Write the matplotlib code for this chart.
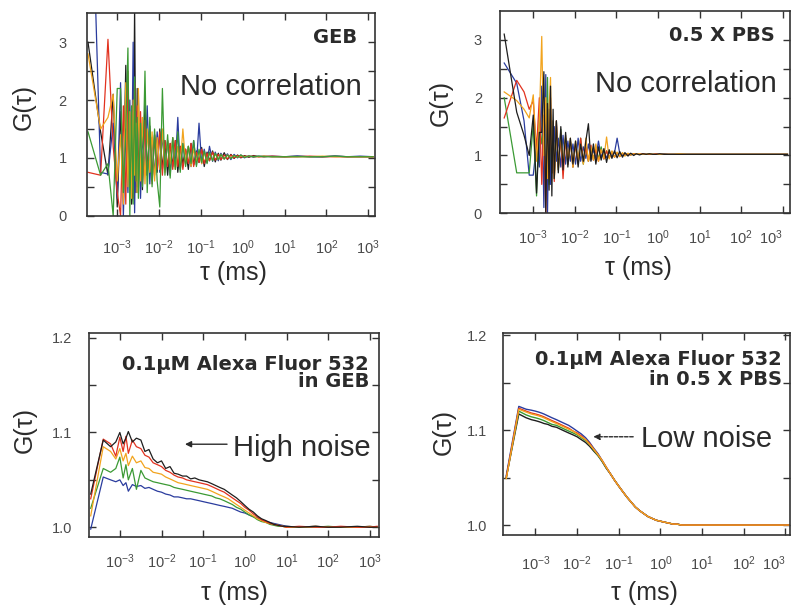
import matplotlib
matplotlib.use("Agg")
import matplotlib.pyplot as plt
from matplotlib.ticker import (FixedLocator, NullLocator, FormatStrFormatter,
                               LogFormatterSciNotation)

plt.rcParams['font.family'] = ['Liberation Sans', 'DejaVu Sans']
plt.rcParams['mathtext.fontset'] = 'custom'
plt.rcParams['mathtext.rm'] = 'Liberation Sans'
plt.rcParams['mathtext.it'] = 'Liberation Sans:italic'
plt.rcParams['mathtext.bf'] = 'Liberation Sans:bold'

# ---------------- data ----------------
tau_noise = [0.0002, 0.0004, 0.0006, 0.0008, 0.0010, 0.0012, 0.0014, 0.0016, 0.0018, 0.0020,
             0.0022, 0.0024, 0.0026, 0.0028, 0.0030, 0.0032, 0.0036, 0.0040, 0.0046, 0.0052,
             0.0060, 0.0068, 0.0078, 0.0090, 0.0104, 0.0120, 0.0138, 0.0160, 0.0184, 0.0212,
             0.0244, 0.0280, 0.0320, 0.0370, 0.0430, 0.0500, 0.0580, 0.0670, 0.0780, 0.0900,
             0.104, 0.120, 0.140, 0.160, 0.190, 0.220, 0.260, 0.300, 0.360, 0.430,
             0.520, 0.620, 0.750, 0.900, 1.10, 1.40, 1.80, 2.40, 3.20, 5.0,
             10, 20, 40, 80, 160, 320, 640, 1300]

geb_noise_black = [3.00, 1.45, 0.70, 2.10, 0.15, 1.80, 0.40, 2.60, 0.90, 1.60,
                   0.20, 0.50, 3.60, 0.40, 2.20, 0.60, 1.70, 0.45, 1.95, 0.70,
                   1.55, 0.60, 1.40, 0.75, 1.50, 0.80, 1.30, 0.70, 1.25, 0.85,
                   1.30, 0.75, 1.20, 0.90, 1.15, 0.80, 1.25, 0.88, 1.12, 0.92,
                   1.18, 0.85, 1.10, 0.95, 1.12, 0.93, 1.08, 0.96, 1.09, 0.97,
                   1.06, 0.99, 1.05, 1.00, 1.04, 1.01, 1.04, 1.02, 1.03, 1.02,
                   1.02, 1.03, 1.02, 1.02, 1.03, 1.02, 1.02, 1.02]
geb_noise_blue = [8.00, 0.75, 0.72, 1.60, 0.30, 2.30, 0.00, 1.50, 0.40, 2.00,
                  0.60, 3.00, 0.05, 1.80, 0.50, 2.10, 0.30, 1.40, 0.80, 1.90,
                  0.55, 1.35, 0.70, 1.45, 0.75, 1.40, 0.80, 1.30, 0.70, 1.35,
                  0.85, 1.70, 0.80, 1.25, 0.90, 1.20, 0.85, 1.30, 0.88, 1.60,
                  0.90, 1.15, 0.92, 1.20, 0.94, 1.10, 0.95, 1.08, 0.98, 1.07,
                  0.97, 1.06, 1.00, 1.05, 1.00, 1.04, 1.01, 1.03, 1.02, 1.03,
                  1.02, 1.03, 1.02, 1.02, 1.03, 1.02, 1.03, 1.02]
geb_noise_red = [0.75, 0.70, 3.05, 1.20, 0.40, 0.00, 1.90, 0.20, 2.50, 0.70,
                 1.80, 0.30, 2.30, 0.60, 1.90, 0.40, 1.80, 0.55, 1.65, 0.70,
                 1.50, 0.55, 1.40, 0.80, 1.45, 0.70, 1.30, 0.85, 1.25, 0.80,
                 1.30, 0.85, 1.20, 0.80, 1.15, 0.90, 1.25, 0.85, 1.10, 0.92,
                 1.15, 0.90, 1.08, 0.95, 1.10, 0.96, 1.06, 0.97, 1.05, 0.98,
                 1.05, 1.00, 1.04, 1.01, 1.03, 1.02, 1.03, 1.02, 1.02, 1.03,
                 1.02, 1.02, 1.03, 1.02, 1.02, 1.02, 1.02, 1.02]
geb_noise_orange = [2.80, 1.50, 1.70, 2.10, 0.60, 1.40, 0.20, 2.30, 0.50, 1.80,
                    0.30, 2.00, 0.70, 1.60, 0.40, 2.20, 0.60, 1.70, 0.55, 1.50,
                    0.75, 1.45, 0.60, 1.35, 0.80, 1.50, 0.75, 1.30, 0.90, 1.35,
                    0.80, 1.20, 0.85, 1.50, 0.90, 1.20, 0.85, 1.15, 0.95, 1.12,
                    0.90, 1.10, 0.93, 1.08, 0.96, 1.07, 0.97, 1.06, 0.98, 1.05,
                    1.00, 1.04, 1.01, 1.04, 1.02, 1.03, 1.02, 1.02, 1.03, 1.02,
                    1.02, 1.02, 1.02, 1.03, 1.02, 1.02, 1.02, 1.02]
geb_noise_green = [1.45, 0.70, 0.90, 0.00, 2.20, 2.20, 0.40, 1.50, 2.90, 0.00,
                   1.90, 0.20, 2.40, 0.60, 1.70, 0.30, 1.60, 0.50, 2.50, 0.40,
                   1.70, 0.50, 1.50, 0.60, 0.15, 2.20, 0.70, 1.40, 0.65, 1.35,
                   0.80, 1.45, 0.75, 1.25, 0.85, 1.20, 0.90, 1.30, 0.85, 1.15,
                   0.92, 1.12, 0.90, 1.10, 0.95, 1.08, 0.97, 1.06, 0.98, 1.05,
                   0.99, 1.04, 1.01, 1.05, 1.01, 1.03, 1.02, 1.03, 1.02, 1.02,
                   1.02, 1.02, 1.02, 1.02, 1.03, 1.02, 1.02, 1.02]

pbs_noise_black = [3.10, 1.75, 1.35, 1.00, 1.70, 0.35, 1.40, 1.40, 2.45, 0.00,
                   1.90, 0.40, 2.20, 0.30, 1.80, 0.60, 1.60, 0.70, 1.50, 0.75,
                   1.40, 0.80, 1.30, 0.85, 1.25, 0.80, 1.20, 0.90, 1.25, 1.55,
                   0.90, 1.20, 0.85, 1.15, 0.92, 1.12, 0.88, 1.10, 0.95, 1.08,
                   0.96, 1.07, 0.97, 1.05, 0.99, 1.04, 1.00, 1.03, 1.01, 1.03,
                   1.02, 1.03, 1.02, 1.02, 1.03, 1.02, 1.02, 1.02, 1.02, 1.02,
                   1.02, 1.02, 1.02, 1.02, 1.02, 1.02, 1.02, 1.02]
pbs_noise_blue = [2.60, 2.25, 1.60, 0.66, 0.66, 1.20, 0.80, 2.20, 0.10, 2.40,
                  0.00, 1.80, 0.50, 1.60, 0.70, 1.50, 0.90, 1.30, 0.80, 1.35,
                  0.85, 1.25, 0.90, 1.20, 0.85, 1.30, 0.90, 1.15, 0.95, 1.20,
                  0.92, 1.10, 0.95, 1.25, 0.97, 1.08, 0.96, 1.06, 0.98, 1.05,
                  1.30, 1.04, 1.00, 1.03, 1.01, 1.03, 1.02, 1.02, 1.02, 1.03,
                  1.02, 1.02, 1.02, 1.02, 1.02, 1.03, 1.02, 1.02, 1.02, 1.02,
                  1.02, 1.02, 1.02, 1.02, 1.02, 1.02, 1.02, 1.02]
pbs_noise_red = [1.65, 2.30, 2.10, 1.80, 1.95, 1.10, 2.00, 0.50, 1.70, 0.00,
                 1.50, 0.60, 2.00, 0.70, 1.40, 0.55, 1.60, 0.80, 1.30, 0.60,
                 1.30, 0.85, 1.25, 0.80, 1.20, 0.85, 1.30, 0.88, 1.15, 0.90,
                 1.18, 0.92, 1.12, 0.90, 1.10, 0.94, 1.08, 0.96, 1.07, 0.97,
                 1.05, 0.98, 1.04, 1.00, 1.03, 1.01, 1.03, 1.02, 1.02, 1.03,
                 1.02, 1.02, 1.02, 1.03, 1.02, 1.02, 1.02, 1.02, 1.02, 1.02,
                 1.02, 1.02, 1.02, 1.02, 1.02, 1.02, 1.02, 1.02]
pbs_noise_orange = [2.10, 1.95, 1.80, 1.65, 2.05, 0.90, 1.60, 3.06, 1.00, 2.00,
                    0.60, 1.80, 2.35, 0.70, 1.60, 0.60, 1.50, 0.75, 1.40, 0.80,
                    1.35, 0.85, 1.30, 0.80, 1.25, 0.90, 1.20, 0.85, 1.30, 0.90,
                    1.15, 0.92, 1.20, 0.90, 1.10, 0.95, 1.32, 0.94, 1.08, 0.97,
                    1.06, 0.98, 1.05, 0.99, 1.04, 1.01, 1.03, 1.02, 1.03, 1.02,
                    1.02, 1.03, 1.02, 1.02, 1.02, 1.02, 1.02, 1.02, 1.03, 1.02,
                    1.02, 1.02, 1.02, 1.02, 1.02, 1.02, 1.02, 1.02]
pbs_noise_green = [2.00, 0.70, 0.70, 0.70, 1.55, 0.30, 1.75, 1.20, 1.40, 0.60,
                   2.35, 0.50, 1.70, 0.70, 1.50, 0.60, 1.60, 0.75, 1.45, 0.80,
                   1.30, 0.85, 1.25, 0.80, 1.20, 0.90, 1.30, 0.85, 1.15, 0.90,
                   1.12, 0.93, 1.10, 0.95, 1.15, 0.94, 1.08, 0.96, 1.06, 0.98,
                   1.05, 0.99, 1.04, 1.00, 1.03, 1.01, 1.03, 1.02, 1.02, 1.02,
                   1.02, 1.03, 1.02, 1.02, 1.02, 1.02, 1.02, 1.02, 1.02, 1.02,
                   1.02, 1.02, 1.02, 1.02, 1.02, 1.02, 1.02, 1.02]

tau_dye = [0.0002, 0.0004, 0.0006, 0.0008, 0.0010, 0.0012, 0.0014, 0.0016, 0.0020, 0.0025,
           0.0032, 0.0040, 0.0050, 0.0063, 0.0080, 0.010, 0.0126, 0.016, 0.020, 0.025,
           0.032, 0.040, 0.050, 0.063, 0.080, 0.10, 0.126, 0.16, 0.20, 0.25,
           0.32, 0.40, 0.50, 0.63, 0.80, 1.0, 1.26, 1.6, 2.0, 2.5,
           3.2, 4.0, 5.0, 6.3, 8.0, 10, 20, 50, 100, 200,
           500, 1000, 1500]

geb_dye_black = [1.035, 1.092, 1.085, 1.090, 1.100, 1.088, 1.094, 1.101, 1.090, 1.094,
                 1.092, 1.080, 1.082, 1.072, 1.068, 1.070, 1.062, 1.064, 1.057, 1.056,
                 1.054, 1.054, 1.051, 1.052, 1.050, 1.049, 1.048, 1.046, 1.044, 1.042,
                 1.040, 1.037, 1.034, 1.031, 1.027, 1.023, 1.019, 1.016, 1.012, 1.009,
                 1.007, 1.005, 1.003, 1.002, 1.001, 1.001, 1.000, 1.001, 1.000, 1.000,
                 1.001, 1.000, 1.000]
geb_dye_red = [1.030, 1.093, 1.088, 1.075, 1.095, 1.080, 1.096, 1.078, 1.092, 1.085,
               1.083, 1.076, 1.074, 1.068, 1.066, 1.064, 1.060, 1.058, 1.055, 1.053,
               1.052, 1.050, 1.049, 1.048, 1.047, 1.046, 1.045, 1.043, 1.041, 1.039,
               1.037, 1.034, 1.031, 1.028, 1.025, 1.021, 1.018, 1.014, 1.011, 1.008,
               1.006, 1.004, 1.003, 1.002, 1.001, 1.000, 1.001, 1.000, 1.000, 1.001,
               1.000, 1.000, 1.001]
geb_dye_orange = [1.012, 1.085, 1.080, 1.072, 1.083, 1.070, 1.078, 1.065, 1.075, 1.068,
                  1.070, 1.063, 1.062, 1.058, 1.057, 1.056, 1.053, 1.051, 1.049, 1.047,
                  1.046, 1.045, 1.044, 1.043, 1.042, 1.041, 1.040, 1.038, 1.036, 1.034,
                  1.032, 1.030, 1.027, 1.024, 1.021, 1.018, 1.015, 1.012, 1.009, 1.007,
                  1.005, 1.004, 1.003, 1.002, 1.001, 1.000, 1.000, 1.001, 1.000, 1.000,
                  1.000, 1.001, 1.000]
geb_dye_green = [1.020, 1.062, 1.058, 1.062, 1.074, 1.052, 1.066, 1.050, 1.062, 1.040,
                 1.060, 1.052, 1.050, 1.048, 1.047, 1.046, 1.045, 1.044, 1.042, 1.041,
                 1.040, 1.039, 1.038, 1.037, 1.036, 1.035, 1.034, 1.033, 1.031, 1.030,
                 1.028, 1.026, 1.024, 1.021, 1.019, 1.016, 1.013, 1.011, 1.008, 1.006,
                 1.005, 1.003, 1.002, 1.001, 1.001, 1.000, 1.000, 1.000, 1.001, 1.000,
                 1.000, 1.000, 1.000]
geb_dye_blue = [0.998, 1.053, 1.050, 1.048, 1.050, 1.044, 1.047, 1.038, 1.045, 1.043,
                1.044, 1.041, 1.042, 1.040, 1.038, 1.037, 1.035, 1.034, 1.032, 1.032,
                1.031, 1.030, 1.030, 1.029, 1.028, 1.027, 1.026, 1.025, 1.024, 1.023,
                1.022, 1.021, 1.020, 1.018, 1.016, 1.015, 1.013, 1.011, 1.010, 1.008,
                1.006, 1.005, 1.004, 1.003, 1.002, 1.001, 1.000, 1.001, 1.000, 1.000,
                1.000, 1.001, 1.000]

pbs_dye_black = [1.050, 1.117, 1.113, 1.111, 1.110, 1.109, 1.108, 1.107, 1.106, 1.104,
                 1.103, 1.101, 1.099, 1.097, 1.095, 1.093, 1.090, 1.087, 1.083, 1.078,
                 1.073, 1.067, 1.060, 1.054, 1.047, 1.041, 1.035, 1.029, 1.024, 1.019,
                 1.015, 1.012, 1.009, 1.007, 1.005, 1.004, 1.003, 1.002, 1.001, 1.001,
                 1.000, 1.000, 1.000, 1.000, 1.000, 1.000, 1.000, 1.000, 1.000, 1.000,
                 1.000, 1.000, 1.000]
pbs_dye_green = [1.050, 1.120, 1.116, 1.114, 1.113, 1.112, 1.111, 1.110, 1.108, 1.106,
                 1.105, 1.103, 1.101, 1.099, 1.097, 1.095, 1.092, 1.089, 1.085, 1.079,
                 1.073, 1.067, 1.060, 1.054, 1.047, 1.041, 1.035, 1.029, 1.024, 1.019,
                 1.015, 1.012, 1.009, 1.007, 1.005, 1.004, 1.003, 1.002, 1.001, 1.001,
                 1.000, 1.000, 1.000, 1.000, 1.000, 1.000, 1.000, 1.000, 1.000, 1.000,
                 1.000, 1.000, 1.000]
pbs_dye_blue = [1.052, 1.125, 1.122, 1.121, 1.120, 1.119, 1.118, 1.117, 1.115, 1.113,
                1.111, 1.109, 1.107, 1.105, 1.102, 1.099, 1.096, 1.092, 1.087, 1.081,
                1.075, 1.068, 1.061, 1.054, 1.047, 1.041, 1.035, 1.029, 1.024, 1.019,
                1.015, 1.012, 1.009, 1.007, 1.005, 1.004, 1.003, 1.002, 1.001, 1.001,
                1.000, 1.000, 1.000, 1.000, 1.000, 1.000, 1.000, 1.000, 1.000, 1.000,
                1.000, 1.000, 1.000]
pbs_dye_red = [1.050, 1.123, 1.120, 1.118, 1.117, 1.116, 1.115, 1.114, 1.112, 1.110,
               1.108, 1.106, 1.104, 1.102, 1.099, 1.097, 1.094, 1.090, 1.086, 1.080,
               1.074, 1.068, 1.061, 1.054, 1.047, 1.041, 1.035, 1.029, 1.024, 1.019,
               1.015, 1.012, 1.009, 1.007, 1.005, 1.004, 1.003, 1.002, 1.001, 1.001,
               1.000, 1.000, 1.000, 1.000, 1.000, 1.000, 1.000, 1.000, 1.000, 1.000,
               1.000, 1.000, 1.000]
pbs_dye_orange = [1.049, 1.122, 1.119, 1.117, 1.116, 1.115, 1.114, 1.113, 1.111, 1.109,
                  1.107, 1.105, 1.103, 1.101, 1.099, 1.096, 1.093, 1.090, 1.085, 1.080,
                  1.074, 1.068, 1.061, 1.054, 1.047, 1.041, 1.035, 1.029, 1.024, 1.019,
                  1.015, 1.012, 1.009, 1.007, 1.005, 1.004, 1.003, 1.002, 1.001, 1.001,
                  1.000, 1.000, 1.000, 1.000, 1.000, 1.000, 1.000, 1.000, 1.000, 1.000,
                  1.000, 1.000, 1.000]

decade_ticks = [1e-3, 1e-2, 1e-1, 1e0, 1e1, 1e2, 1e3]

# ---------------- style ----------------
C = {'black': '#1e1e1e', 'blue': '#2a3c9e', 'red': '#e2321f',
     'orange': '#f2a41e', 'green': '#3b9a34'}
SPINE = '#333333'
TXT = '#2b2b2b'
TICKTXT = '#4a4a4a'

W, H = 791, 607
fig = plt.figure(figsize=(W / 100, H / 100), dpi=100)


def rect(l, r, t, b):
    return [l / W, 1 - b / H, (r - l) / W, (b - t) / H]


def style(ax, xlim, ylim, ymaj, ymin, yfmt, xpad, ypad, clip_last=False):
    ax.set_xscale('log')
    ax.set_xlim(*xlim)
    ax.set_ylim(*ylim)
    ax.xaxis.set_major_locator(FixedLocator(decade_ticks))
    ax.xaxis.set_major_formatter(LogFormatterSciNotation())
    ax.xaxis.set_minor_locator(NullLocator())
    ax.yaxis.set_major_locator(FixedLocator(ymaj))
    ax.yaxis.set_minor_locator(FixedLocator(ymin))
    ax.yaxis.set_major_formatter(FormatStrFormatter(yfmt))
    ax.tick_params(which='both', direction='in', top=True, right=True,
                   length=5, width=1.0, color=SPINE, labelsize=10.5,
                   labelcolor=TICKTXT)
    ax.tick_params(axis='x', which='both', pad=xpad)
    ax.tick_params(axis='y', which='both', pad=ypad)
    for s in ax.spines.values():
        s.set_linewidth(1.2)
        s.set_color(SPINE)
    if clip_last:
        ticks = ax.xaxis.get_major_ticks()
        ticks[-1].label1.set_horizontalalignment('right')


def ftext(x, y, s, **kw):
    fig.text(x / W, 1 - y / H, s, **kw)


LW = 0.9

# ---- top-left: GEB, no correlation ----
ax1 = fig.add_axes(rect(86.7, 375, 13.3, 215.7))
for vals, c in [(geb_noise_black, 'black'), (geb_noise_blue, 'blue'),
                (geb_noise_red, 'red'), (geb_noise_orange, 'orange'),
                (geb_noise_green, 'green')]:
    ax1.plot(tau_noise, vals, color=C[c], lw=LW)
style(ax1, (10 ** -3.73, 10 ** 3.16), (0, 3.5), [0, 1, 2, 3], [0.5, 1.5, 2.5],
      '%d', 16, 14.5)
ax1.text(0.9365, 0.852, 'GEB', transform=ax1.transAxes, ha='right', va='baseline',
         fontsize=14, fontweight='bold', family=['DejaVu Sans'], color=TXT)
ax1.text(0.955, 0.596, 'No correlation', transform=ax1.transAxes, ha='right',
         va='baseline', fontsize=21, color=TXT)

# ---- top-right: 0.5 X PBS, no correlation ----
ax2 = fig.add_axes(rect(500, 790, 11, 213.3))
for vals, c in [(pbs_noise_blue, 'blue'), (pbs_noise_green, 'green'),
                (pbs_noise_red, 'red'), (pbs_noise_orange, 'orange'),
                (pbs_noise_black, 'black')]:
    ax2.plot(tau_noise, vals, color=C[c], lw=LW)
style(ax2, (10 ** -3.8, 10 ** 3.175), (0, 3.5), [0, 1, 2, 3], [0.5, 1.5, 2.5],
      '%d', 11, 13, clip_last=True)
ax2.text(0.948, 0.853, '0.5 X PBS', transform=ax2.transAxes, ha='right',
         va='baseline', fontsize=14, fontweight='bold', family=['DejaVu Sans'],
         color=TXT)
ax2.text(0.954, 0.598, 'No correlation', transform=ax2.transAxes, ha='right',
         va='baseline', fontsize=21, color=TXT)

# ---- bottom-left: dye in GEB ----
ax3 = fig.add_axes(rect(89, 379, 333, 536.7))
for vals, c in [(geb_dye_blue, 'blue'), (geb_dye_green, 'green'),
                (geb_dye_orange, 'orange'), (geb_dye_red, 'red'),
                (geb_dye_black, 'black')]:
    ax3.plot(tau_dye, vals, color=C[c], lw=LW)
style(ax3, (10 ** -3.74, 10 ** 3.22), (0.990, 1.205), [1.0, 1.1, 1.2],
      [1.05, 1.15], '%.1f', 11.5, 12)
ax3.text(0.963, 0.818, '0.1µM Alexa Fluor 532', transform=ax3.transAxes,
         ha='right', va='baseline', fontsize=14, fontweight='bold',
         family=['DejaVu Sans'], color=TXT)
ax3.text(0.966, 0.733, 'in GEB', transform=ax3.transAxes, ha='right',
         va='baseline', fontsize=14, fontweight='bold', family=['DejaVu Sans'],
         color=TXT)
ax3.annotate('', xy=(0.331, 0.454), xytext=(0.476, 0.454), xycoords='axes fraction',
             arrowprops=dict(arrowstyle='-|>', color=TXT, lw=1.0,
                             mutation_scale=9, shrinkA=0, shrinkB=0))
ax3.text(0.497, 0.396, 'High noise', transform=ax3.transAxes, ha='left',
         va='baseline', fontsize=21, color=TXT)

# ---- bottom-right: dye in 0.5 X PBS ----
ax4 = fig.add_axes(rect(503.3, 790, 333.3, 535))
for vals, c in [(pbs_dye_black, 'black'), (pbs_dye_green, 'green'),
                (pbs_dye_blue, 'blue'), (pbs_dye_red, 'red'),
                (pbs_dye_orange, 'orange')]:
    ax4.plot(tau_dye, vals, color=C[c], lw=1.0)
style(ax4, (10 ** -3.77, 10 ** 3.11), (0.9895, 1.202), [1.0, 1.1, 1.2],
      [1.05, 1.15], '%.1f', 14, 11.5, clip_last=True)
ax4.text(0.971, 0.843, '0.1µM Alexa Fluor 532', transform=ax4.transAxes,
         ha='right', va='baseline', fontsize=14, fontweight='bold',
         family=['DejaVu Sans'], color=TXT)
ax4.text(0.971, 0.744, 'in 0.5 X PBS', transform=ax4.transAxes, ha='right',
         va='baseline', fontsize=14, fontweight='bold', family=['DejaVu Sans'],
         color=TXT)
ax4.annotate('', xy=(0.314, 0.487), xytext=(0.453, 0.487), xycoords='axes fraction',
             arrowprops=dict(arrowstyle='-|>', color=TXT, lw=1.0, linestyle=(0, (2.5, 1.2)),
                             mutation_scale=9, shrinkA=0, shrinkB=0))
ax4.text(0.479, 0.438, 'Low noise', transform=ax4.transAxes, ha='left',
         va='baseline', fontsize=21, color=TXT)

# ---- axis labels ----
for (x, y) in [(233.5, 273), (638, 268), (234, 593), (644, 593)]:
    ftext(x, y, 'τ (ms)', ha='center', va='center', fontsize=18, color=TXT)
for (x, y) in [(24, 107), (441, 103.5), (25, 430), (444, 432)]:
    ftext(x, y, 'G(τ)', ha='center', va='center', fontsize=18, rotation=90,
          color=TXT)

fig.savefig('out.png', dpi=100)
